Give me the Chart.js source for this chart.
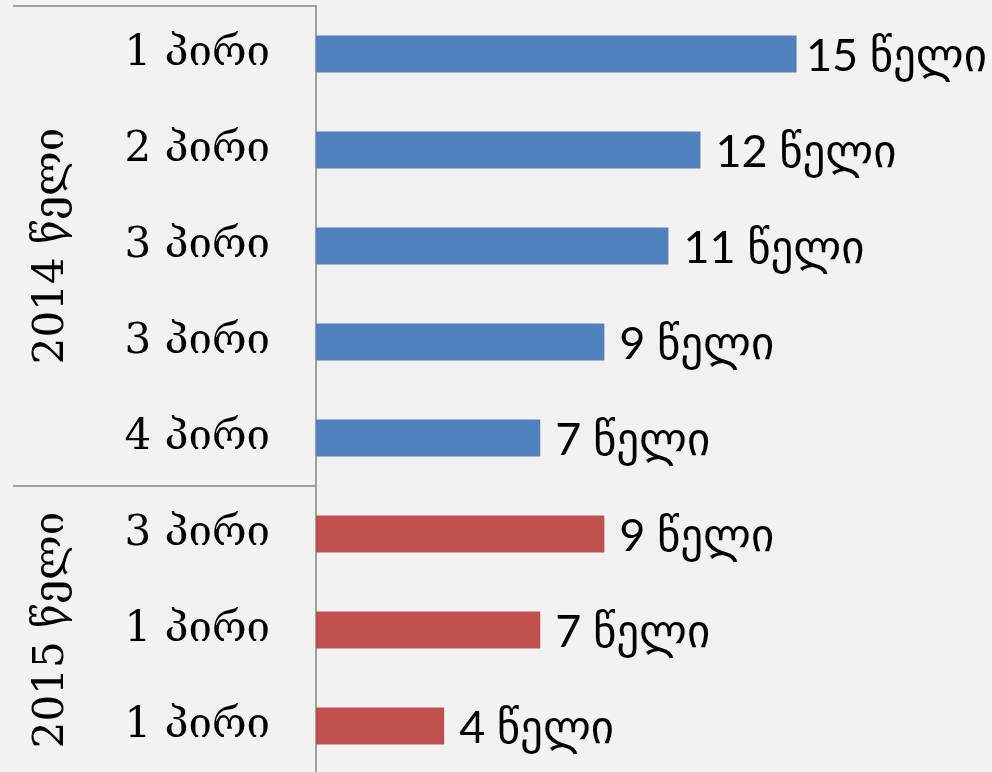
<!DOCTYPE html>
<html>
<head>
<meta charset="utf-8">
<script src="https://cdn.jsdelivr.net/npm/chart.js@4"></script>
<style>
html,body{margin:0;padding:0;background:#f2f2f2;overflow:hidden;}
#wrap{width:992px;height:774px;}
</style>
</head>
<body>
<div id="wrap"><canvas id="c" width="992" height="774"></canvas></div>
<script>
const categories = ["1 პირი","2 პირი","3 პირი","3 პირი","4 პირი","3 პირი","1 პირი","1 პირი"];
const years = ["2014 წელი","2015 წელი"];
const yearOfCategory = [0,0,0,0,0,1,1,1];
const values = [15,12,11,9,7,9,7,4];
const valueSuffix = " წელი";
const yearColors = ["#4f81bd","#c0504d"];
const axisMax = 21.1;

const serifFont = "'DejaVu Serif', serif";
const sansFont = "Lato, 'DejaVu Sans', sans-serif";

const groupPlugin = {
  id: 'groups',
  beforeDraw(chart){
    const ctx = chart.ctx;
    ctx.save();
    ctx.fillStyle = '#f2f2f2';
    ctx.fillRect(0,0,chart.width,chart.height);
    ctx.restore();
  },
  afterDraw(chart){
    const ctx = chart.ctx;
    const y = chart.scales.y;
    const area = chart.chartArea;
    const half = (y.getPixelForValue(1) - y.getPixelForValue(0)) / 2;
    ctx.save();
    ctx.strokeStyle = '#a0a0a0';
    ctx.lineWidth = 2;
    const bounds = [area.top];
    for (let i = 1; i < categories.length; i++) {
      if (yearOfCategory[i] !== yearOfCategory[i-1]) bounds.push(y.getPixelForValue(i) - half);
    }
    bounds.forEach(b => {
      ctx.beginPath(); ctx.moveTo(13, b); ctx.lineTo(area.left, b); ctx.stroke();
    });
    ctx.fillStyle = '#000';
    ctx.font = "42px " + serifFont;
    ctx.textAlign = 'center';
    ctx.textBaseline = 'middle';
    years.forEach((yr, g) => {
      const idx = yearOfCategory.map((v,i)=>v===g?i:-1).filter(i=>i>=0);
      const top = y.getPixelForValue(idx[0]) - half;
      const bot = y.getPixelForValue(idx[idx.length-1]) + half;
      ctx.save();
      ctx.translate(52, (top + bot) / 2);
      ctx.rotate(-Math.PI/2);
      ctx.fillText(yr, 0, 0);
      ctx.restore();
    });
    ctx.font = "45px " + sansFont;
    ctx.textAlign = 'left';
    const meta = chart.getDatasetMeta(0);
    meta.data.forEach((bar, i) => {
      const txt = values[i] + valueSuffix;
      const w = ctx.measureText(txt).width;
      const x = Math.min(bar.x + 15, chart.width - 5 - w);
      ctx.fillText(txt, x, bar.y + 2);
    });
    ctx.restore();
  }
};

new Chart(document.getElementById('c'), {
  type: 'bar',
  data: {
    labels: categories,
    datasets: [{
      data: values,
      backgroundColor: yearOfCategory.map(g => yearColors[g]),
      barPercentage: 0.385,
      categoryPercentage: 1
    }]
  },
  options: {
    indexAxis: 'y',
    responsive: false,
    animation: false,
    layout: { padding: { top: 6, right: 0, bottom: 0, left: 0 } },
    plugins: { legend: { display: false }, tooltip: { enabled: false } },
    scales: {
      x: { display: false, min: 0, max: axisMax },
      y: {
        afterFit(s){ s.width = 316; s.paddingTop = 0; s.paddingBottom = 0; },
        grid: { display: false, drawTicks: false },
        border: { display: true, color: '#a0a0a0', width: 2 },
        ticks: { color: '#000', padding: 46, font: { family: serifFont, size: 42 } }
      }
    }
  },
  plugins: [groupPlugin]
});
</script>
</body>
</html>
